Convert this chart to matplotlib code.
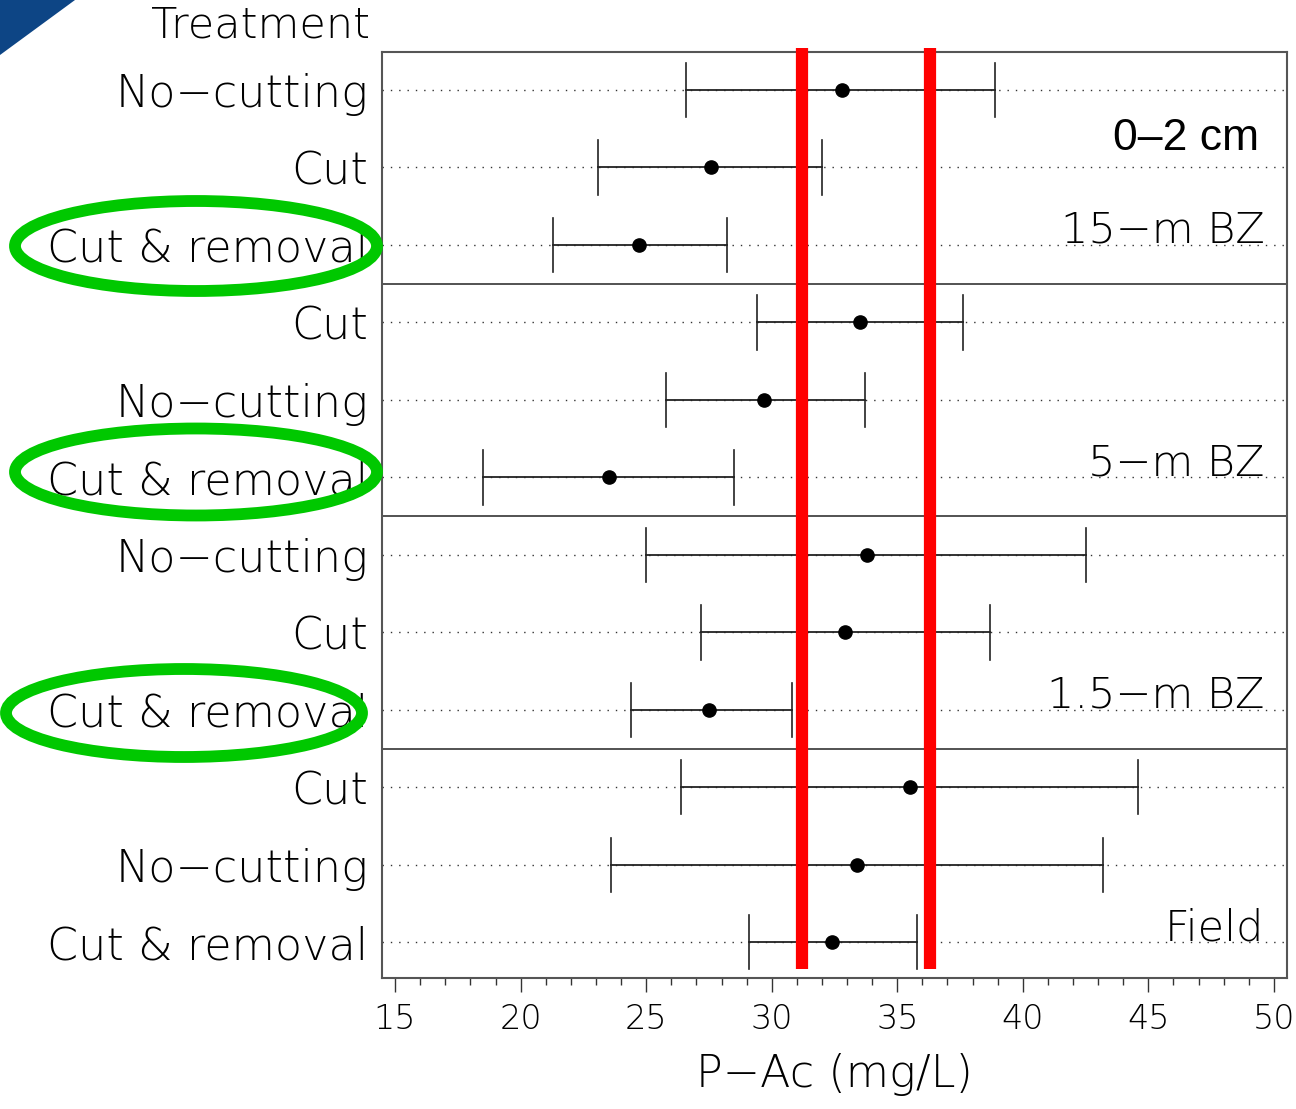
import matplotlib
matplotlib.use("Agg")
import matplotlib.pyplot as plt
from matplotlib.patches import Ellipse, Polygon

treatments = ["No−cutting", "Cut", "Cut & removal",
              "Cut", "No−cutting", "Cut & removal",
              "No−cutting", "Cut", "Cut & removal",
              "Cut", "No−cutting", "Cut & removal"]
means = [32.8, 27.6, 24.7, 33.5, 29.7, 23.5, 33.8, 32.9, 27.5, 35.5, 33.4, 32.4]
lower = [26.6, 23.1, 21.3, 29.4, 25.8, 18.5, 25.0, 27.2, 24.4, 26.4, 23.6, 29.1]
upper = [38.9, 32.0, 28.2, 37.6, 33.7, 28.5, 42.5, 38.7, 30.8, 44.6, 43.2, 35.8]
groups = ["15−m BZ", "5−m BZ", "1.5−m BZ", "Field"]
ref_lines = [31.2, 36.3]
xticks = [15, 20, 25, 30, 35, 40, 45, 50]
depth_label = "0–2 cm"

W, H = 1296, 1109
fig = plt.figure(figsize=(W / 100, H / 100), dpi=100)
ax = fig.add_axes([382 / W, 1 - 978 / H, (1287 - 382) / W, (978 - 52) / H])

fam = ["DejaVu Sans"]
n = len(means)
ys = list(range(n))

# dotted grid lines per row
for y in ys:
    ax.axhline(y, color="#333333", lw=1.0, ls=(0, (1, 5)), zorder=1)

# group dividers
for d in [2.5, 5.5, 8.5]:
    ax.axhline(d, color="#444444", lw=1.3, zorder=2)

# error bars
for y, m, lo, hi in zip(ys, means, lower, upper):
    ax.plot([lo, hi], [y, y], color="#222222", lw=1.3, zorder=3)
    ax.plot([lo, lo], [y - 0.35, y + 0.35], color="#222222", lw=1.2, zorder=3)
    ax.plot([hi, hi], [y - 0.35, y + 0.35], color="#222222", lw=1.2, zorder=3)
ax.plot(means, ys, "o", color="black", ms=9.5, zorder=5)

# red reference lines
for xr in ref_lines:
    ax.plot([xr, xr], [-0.54, 11.35], color="#ff0000", lw=8.8, zorder=4,
            solid_capstyle="butt", clip_on=False)

ax.set_xlim(14.48, 50.52)
ax.set_ylim(11.46, -0.49)
ax.set_yticks(ys)
ax.set_yticklabels(treatments, fontsize=32, family=fam, fontweight="light")
ax.tick_params(axis="y", length=0, pad=10)
ax.set_xticks(xticks)
ax.set_xticks([x for x in range(15, 51) if x % 5 != 0], minor=True)
ax.tick_params(axis="x", which="major", length=10, width=1.0, direction="out",
               labelsize=24, pad=8, color="#333333")
ax.tick_params(axis="x", which="minor", length=5, width=1.0, direction="out",
               color="#333333")
for lab in ax.get_xticklabels():
    lab.set_family(fam)
    lab.set_fontweight("light")
ax.set_xlabel("P−Ac (mg/L)", fontsize=32, family=fam, fontweight="light",
              labelpad=12)
for s in ax.spines.values():
    s.set_color("#555555")
    s.set_linewidth(1.5)

# group labels
group_rows = [2, 5, 8, 11]
for g, r in zip(groups, group_rows):
    ax.text(0.975, r - 0.03, g, transform=ax.get_yaxis_transform(),
            ha="right", va="baseline", fontsize=31, family=fam,
            fontweight="light", zorder=6)
ax.text(0.969, 0.62, depth_label, transform=ax.get_yaxis_transform(),
        ha="right", va="center", fontsize=32, family=["Liberation Sans"],
        zorder=6)

# header
ax.text(370 / W, 1 - 25 / H, "Treatment", transform=fig.transFigure,
        ha="right", va="center", fontsize=31, family=fam, fontweight="light")

# green ellipses (figure pixel coords)
for cx, cy, ew, eh in [(196, 246, 362, 90), (196, 472, 362, 87), (184, 713, 356, 88)]:
    e = Ellipse((cx / W, 1 - cy / H), ew / W, eh / H, transform=fig.transFigure,
                fill=False, edgecolor="#00c800", lw=8.5, zorder=10)
    fig.patches.append(e)

# corner decoration
tri = Polygon([(0, 1), (75 / W, 1), (0, 1 - 55 / H)], closed=True,
              transform=fig.transFigure, facecolor="#0d4585", edgecolor="none")
fig.patches.append(tri)

fig.savefig("out.png", dpi=100)
